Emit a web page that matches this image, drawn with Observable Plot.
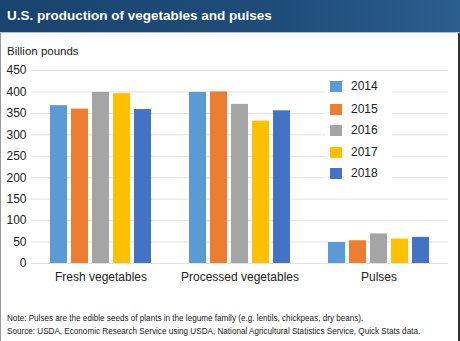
<!DOCTYPE html>
<html>
<head>
<meta charset="utf-8">
<script src="https://cdn.jsdelivr.net/npm/d3@7"></script>
<script src="https://cdn.jsdelivr.net/npm/@observablehq/plot@0.6"></script>
<style>
  html, body { margin: 0; padding: 0; background: #fff; }
  body { font-family: "Liberation Sans", Arial, Helvetica, sans-serif; color: #222; }
  #wrap { position: relative; width: 460px; height: 341px; overflow: hidden; background: #fff; }
  #header { position: absolute; left: 0; top: 0; width: 460px; height: 32px;
    background: linear-gradient(90deg, #1a4470 0%, #1e4b78 55%, #2a5e8e 100%); }
  #header .title { position: absolute; left: 7px; top: 8px; color: #fff; font-weight: bold; font-size: 13.5px; }
  #hline { position: absolute; left: 0; top: 32px; width: 460px; height: 1px; background: #a9c4de; }
  #ylabel { position: absolute; left: 7px; top: 45px; font-size: 11.5px; }
  #chart { position: absolute; left: 0; top: 34px; }
  #legend { position: absolute; left: 325px; top: 76px; width: 67px; height: 112px; background: #fff; }
  .lg { position: absolute; left: 0; height: 14px; }
  .sw { position: absolute; left: 5px; top: 1px; width: 12px; height: 11px; }
  .lt { position: absolute; left: 26px; top: -1px; font-size: 12px; }
  #notes { position: absolute; left: 7px; top: 313px; font-size: 8.15px; line-height: 12.5px; color: #222; }
  #bl { position: absolute; left: 0; top: 33px; width: 1px; height: 308px; background: #9a9a9a; }
  #br { position: absolute; right: 0; top: 33px; width: 2px; height: 308px; background: #333; }
</style>
</head>
<body>
<div id="wrap">
  <div id="header"><div class="title">U.S. production of vegetables and pulses</div></div>
  <div id="hline"></div>
  <div id="ylabel">Billion pounds</div>
  <div id="chart"></div>
  <div id="legend"></div>
  <div id="notes">
    <div>Note: Pulses are the edible seeds of plants in the legume family (e.g. lentils, chickpeas, dry beans).</div>
    <div>Source: USDA, Economic Research Service using USDA, National Agricultural Statistics Service, Quick Stats data.</div>
  </div>
  <div id="bl"></div>
  <div id="br"></div>
</div>
<script>
const categories = ["Fresh vegetables", "Processed vegetables", "Pulses"];
const years = ["2014", "2015", "2016", "2017", "2018"];
const colors = ["#5b9bd5", "#ed7d31", "#a5a5a5", "#ffc000", "#4472c4"];
const freshValues = [368, 360, 399, 396, 359];
const processedValues = [399, 400, 371, 332, 356];
const pulsesValues = [49, 53, 69, 57, 61];
const yTicks = [0, 50, 100, 150, 200, 250, 300, 350, 400, 450];
const legendY = [4, 27, 48, 70, 91];

const seriesByCategory = [freshValues, processedValues, pulsesValues];
const data = [];
categories.forEach((c, i) => {
  years.forEach((y, j) => data.push({category: c, year: y, value: seriesByCategory[i][j]}));
});

const chart = Plot.plot({
  width: 460,
  height: 250,
  marginTop: 36,
  marginBottom: 21,
  marginLeft: 30,
  marginRight: 12,
  style: {fontFamily: '"Liberation Sans", Arial, Helvetica, sans-serif', fontSize: "12px", color: "#222", background: "transparent"},
  fx: {domain: categories, padding: 0, label: null, tickSize: 0, tickPadding: 9, axis: "bottom"},
  x: {domain: years, type: "band", paddingInner: 0.2, paddingOuter: 0.87, axis: null},
  y: {domain: [0, 450], ticks: yTicks, tickSize: 0, tickPadding: 5, label: null},
  color: {domain: years, range: colors},
  marks: [
    Plot.ruleY(yTicks, {stroke: "#e2e2e2", strokeWidth: 1}),
    Plot.barY(data, {fx: "category", x: "year", y: "value", fill: "year"})
  ]
});
document.getElementById("chart").appendChild(chart);

const legend = document.getElementById("legend");
years.forEach((y, i) => {
  const row = document.createElement("div");
  row.className = "lg";
  row.style.top = legendY[i] + "px";
  row.innerHTML = `<div class="sw" style="background:${colors[i]}"></div><div class="lt">${y}</div>`;
  legend.appendChild(row);
});
</script>
</body>
</html>
